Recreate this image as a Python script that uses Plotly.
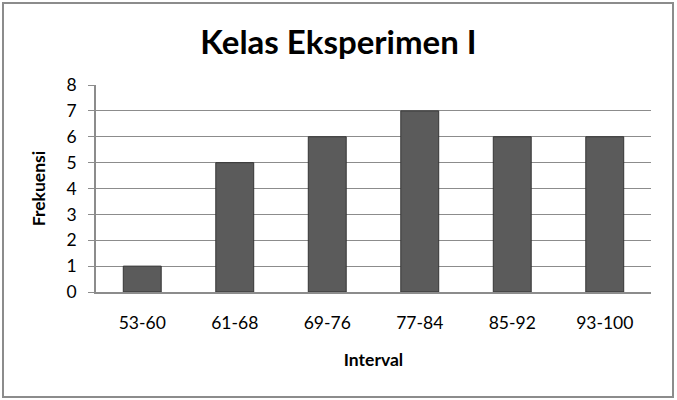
import plotly.graph_objects as go

categories = ["53-60", "61-68", "69-76", "77-84", "85-92", "93-100"]
frequencies = [1, 5, 6, 7, 6, 6]
y_ticks = [0, 1, 2, 3, 4, 5, 6, 7, 8]

W, H = 677, 400
ml, mr, mt, mb = 96, 26, 85, 108
pw, ph = W - ml - mr, H - mt - mb

def px_x(p):
    return (p - ml) / pw

def px_y(p):
    return (H - mb - p) / ph

font = "Lato, 'Open Sans', sans-serif"

fig = go.Figure()
fig.add_trace(go.Bar(
    x=categories, y=frequencies,
    marker=dict(color="#5b5b5b", line=dict(color="#353535", width=1)),
    width=0.41,
))

fig.update_layout(
    width=W, height=H,
    margin=dict(l=ml, r=mr, t=mt, b=mb),
    paper_bgcolor="white", plot_bgcolor="white",
    showlegend=False,
    title=dict(text="<b>Kelas Eksperimen I</b>", x=0.5, xref="container",
               y=1 - 42 / H, yref="container", yanchor="middle", xanchor="center",
               font=dict(family=font, size=33, color="black")),
    font=dict(family=font, color="black"),
    xaxis=dict(
        showline=True, linecolor="#8c8c8c", linewidth=1.5,
        ticks="", tickfont=dict(size=17.5, color="black"), ticklabelstandoff=14,
        title=dict(text="<b>Interval</b>", font=dict(size=17.5), standoff=22),
    ),
    yaxis=dict(
        range=[0, 8], tickvals=y_ticks, showgrid=True, gridcolor="#8c8c8c", gridwidth=1.2,
        showline=True, linecolor="#8c8c8c", linewidth=1.5,
        ticks="outside", ticklen=6, tickcolor="#8c8c8c",
        tickfont=dict(size=17.5, color="black"), ticklabelstandoff=8,
        title=dict(text="<b>Frekuensi</b>", font=dict(size=17.5), standoff=16),
        zeroline=False,
    ),
    shapes=[dict(type="rect", xref="paper", yref="paper",
                 x0=px_x(3), x1=px_x(673), y0=px_y(397), y1=px_y(3),
                 line=dict(color="#8c8c8c", width=2), layer="below")],
)

fig.write_html("out.html")
